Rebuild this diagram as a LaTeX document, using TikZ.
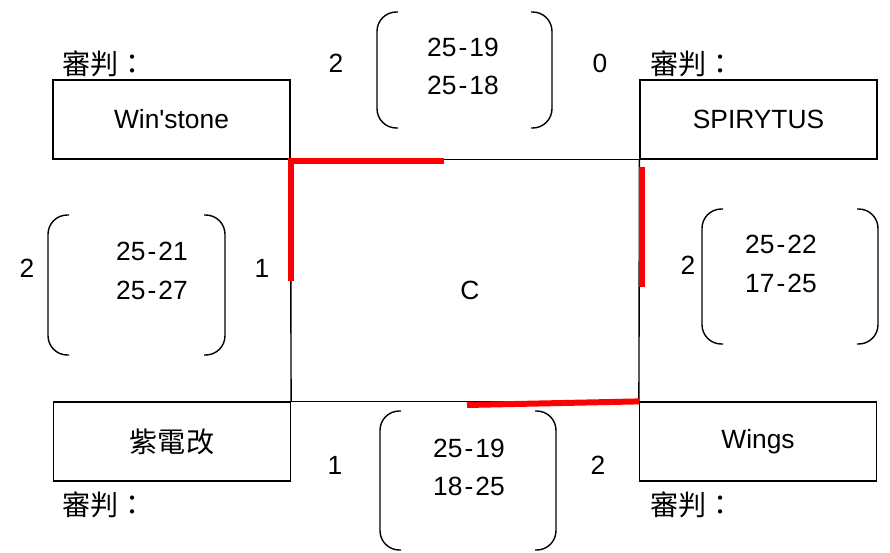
\documentclass[tikz,border=0pt]{standalone}
\usepackage{fontspec}
\setmainfont{Liberation Sans}
\newfontfamily\cjk{Noto Sans CJK TC}
\definecolor{BLACK}{HTML}{000000}
\definecolor{RED}{HTML}{FF0000}
\tikzset{
  team/.style={draw=BLACK, line width=0.7pt, minimum width=4.74cm, minimum height=1.58cm, inner sep=0pt, font=\fontsize{15}{18}\selectfont},
  score/.style={BLACK, align=center, font=\fontsize{15}{22}\selectfont},
  sets/.style={BLACK, font=\fontsize{15}{18}\selectfont},
  referee/.style={BLACK, anchor=west, inner sep=0pt, font=\cjk\fontsize{16}{18}\selectfont},
  bracket/.style={BLACK, line width=0.8pt, rounded corners=11pt},
  link/.style={BLACK, line width=0.8pt},
  win/.style={RED, line width=3.4pt},
}
% left x, right x, top y, bottom y
\newcommand*{\Brackets}[4]{%
  \draw[bracket] (#1+21,#3) -- (#1,#3) -- (#1,#4) -- (#1+21,#4);
  \draw[bracket] (#2-21,#3) -- (#2,#3) -- (#2,#4) -- (#2-21,#4);}
\newcommand*{\Set}[2]{#1\kern1.2pt-\kern1.2pt#2}

\begin{document}
\begin{tikzpicture}[x=0.02cm, y=-0.02cm]
    \useasboundingbox (0,0) rectangle (890,552);
    % Teams
    \node[team] (ws) at (171.5,119.5) {Win\textquotesingle stone};
    \node[team] (sp) at (758.5,119.5) {SPIRYTUS};
    \node[team] (zd) at (172,441.5) {{\cjk\fontsize{16}{18}\selectfont 紫電改}};
    \node[team] (wg) at (758,441.5) {Wings};
    \node[referee] (ref1) at (62,64) {審判：};
    \node[referee] (ref2) at (650,64) {審判：};
    \node[referee] (ref3) at (62,505) {審判：};
    \node[referee] (ref4) at (650,505) {審判：};
    \node[BLACK, font=\fontsize{15}{18}\selectfont] (group) at (470,290) {C};
    % Links
    \draw[link] (ws.south east) -- (sp.south west);
    \draw[link] (sp.south west) -- (wg.north west);
    \draw[link] (wg.north west) -- (zd.north east);
    \draw[link] (zd.north east) -- (ws.south east);
    % Winners
    \coordinate (topwin) at (444,161);
    \coordinate (leftwin) at (291,281);
    \coordinate (rightup) at (642,167);
    \coordinate (rightwin) at (642,287);
    \coordinate (botwin) at (467,405);
    \draw[win] (topwin) -- (291,161) -- (leftwin);
    \draw[win] (rightup) -- (rightwin);
    \draw[win] (botwin) -- (wg.north west);
    % Top match
    \Brackets{377}{552}{12}{128}
    \node[score] (s1) at (463,66.5) {\Set{25}{19}\\\Set{25}{18}};
    \node[sets] (s1a) at (336,63) {2};
    \node[sets] (s1b) at (600,63) {0};
    % Left match
    \Brackets{48}{225}{215}{355}
    \node[score] (s2) at (152,271) {\Set{25}{21}\\\Set{25}{27}};
    \node[sets] (s2a) at (27,268) {2};
    \node[sets] (s2b) at (262,268) {1};
    % Right match
    \Brackets{702}{878}{209}{344}
    \node[score] (s3) at (781,264) {\Set{25}{22}\\\Set{17}{25}};
    \node[sets] (s3a) at (688,265) {2};
    % Bottom match
    \Brackets{380}{556}{411}{550}
    \node[score] (s4) at (469,467.5) {\Set{25}{19}\\\Set{18}{25}};
    \node[sets] (s4a) at (335,465) {1};
    \node[sets] (s4b) at (598,465) {2};
\end{tikzpicture}
\end{document}
